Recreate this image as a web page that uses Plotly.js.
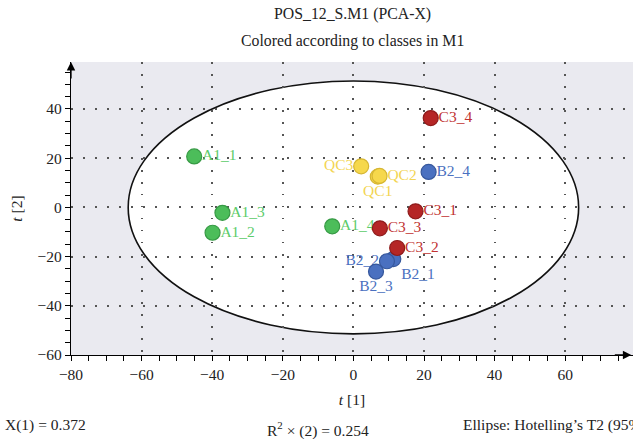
<!DOCTYPE html>
<html>
<head>
<meta charset="utf-8">
<script src="https://cdn.plot.ly/plotly-3.0.1.min.js"></script>
<style>html,body{margin:0;padding:0;background:#fff;}#chart{width:633px;height:439px;}</style>
</head>
<body>
<div id="chart"></div>
<script>
// Observation names, grouped by class
const classA = ["A1_1", "A1_2", "A1_3", "A1_4"];
const classQC = ["QC1", "QC2", "QC3"];
const classB = ["B2_1", "B2_2", "B2_3", "B2_4"];
const classC = ["C3_1", "C3_2", "C3_3", "C3_4"];

// Scores t[1]
const t1A = [-45.1, -39.9, -37.1, -6.0];
const t1QC = [6.9, 7.4, 2.2];
const t1B = [11.3, 9.5, 6.4, 21.3];
const t1C = [17.6, 12.4, 7.5, 21.9];

// Scores t[2]
const t2A = [20.7, -10.3, -2.2, -7.7];
const t2QC = [12.5, 12.8, 16.7];
const t2B = [-21.0, -21.9, -26.1, 14.4];
const t2C = [-1.6, -16.5, -8.5, 36.3];

// Hotelling's T2 ellipse semi-axes (t[1], t[2])
const ellipseT1 = 63.8;
const ellipseT2 = 51.4;

// Tick values
const xTicks = [-80, -60, -40, -20, 0, 20, 40, 60];
const yTicks = [-60, -40, -20, 0, 20, 40];

const FONT = "Liberation Serif, Times New Roman, serif";

const groups = [
  {names: classA, x: t1A, y: t2A, fill: "#4cbd5a", line: "#379a45", txt: "#5ccc6a",
   pos: ["middle right", "middle right", "middle right", "middle right"]},
  {names: classQC, x: t1QC, y: t2QC, fill: "#f6d84c", line: "#d6b632", txt: "#f3d553",
   pos: ["bottom center", "middle right", "middle left"]},
  {names: classB, x: t1B, y: t2B, fill: "#4a70c0", line: "#36579c", txt: "#4a70c0",
   pos: ["bottom right", "middle left", "bottom center", "middle right"]},
  {names: classC, x: t1C, y: t2C, fill: "#b52626", line: "#8e1b1b", txt: "#c13232",
   pos: ["middle right", "middle right", "middle right", "middle right"]}
];

const traces = [];
// label traces first (so markers sit on top of labels)
groups.forEach(g => {
  traces.push({
    type: "scatter", mode: "markers+text", x: g.x, y: g.y, text: g.names,
    textposition: g.pos, cliponaxis: false,
    textfont: {family: FONT, size: 15.5, color: g.txt},
    marker: {size: 11, color: "rgba(0,0,0,0)", line: {width: 0}},
    hoverinfo: "skip", showlegend: false
  });
});
groups.forEach(g => {
  traces.push({
    type: "scatter", mode: "markers", x: g.x, y: g.y, text: g.names,
    marker: {size: 15, color: g.fill, line: {color: g.line, width: 1.2}},
    showlegend: false
  });
});

const layout = {
  width: 633, height: 439,
  margin: {l: 71, r: 0, t: 62, b: 84},
  paper_bgcolor: "#ffffff",
  plot_bgcolor: "#eaeaf0",
  showlegend: false,
  font: {family: FONT, size: 15, color: "#222"},
  xaxis: {
    range: [-80, 79.2], tickvals: xTicks, ticks: "outside", ticklen: 5, tickwidth: 1.2,
    tickcolor: "#000", showline: true, linecolor: "#000", linewidth: 1.3,
    zeroline: false, showgrid: true, gridcolor: "#555", gridwidth: 1.5, griddash: "1.5px,10.5px",
    minor: {dtick: 5, tick0: 0, ticks: "outside", ticklen: 5, tickwidth: 1.2, tickcolor: "#000", showgrid: false},
    tickfont: {family: FONT, size: 15.5, color: "#222"},
    title: {text: "<i>t</i> [1]", font: {family: FONT, size: 15.5, color: "#222"}, standoff: 12}
  },
  yaxis: {
    range: [-60, 59.1], tickvals: yTicks, ticks: "outside", ticklen: 5, tickwidth: 1.2,
    tickcolor: "#000", showline: true, linecolor: "#000", linewidth: 1.3,
    zeroline: false, showgrid: true, gridcolor: "#555", gridwidth: 1.5, griddash: "1.5px,10.5px",
    minor: {dtick: 5, tick0: 0, ticks: "outside", ticklen: 5, tickwidth: 1.2, tickcolor: "#000", showgrid: false},
    tickfont: {family: FONT, size: 15.5, color: "#222"},
    title: {text: "<i>t</i> [2]", font: {family: FONT, size: 15.5, color: "#222"}, standoff: 11}
  },
  shapes: [{
    type: "circle", xref: "x", yref: "y", layer: "below",
    x0: -ellipseT1, x1: ellipseT1, y0: -ellipseT2, y1: ellipseT2,
    fillcolor: "#ffffff", line: {color: "#111", width: 1.6}
  }],
  annotations: [
    {text: "POS_12_S.M1 (PCA-X)", xref: "paper", yref: "paper", x: (352 - 71) / 562, y: (355 - 14) / 293,
     showarrow: false, xanchor: "center", yanchor: "middle", font: {family: FONT, size: 15.8, color: "#222"}},
    {text: "Colored according to classes in M1", xref: "paper", yref: "paper", x: (352 - 71) / 562, y: (355 - 41) / 293,
     showarrow: false, xanchor: "center", yanchor: "middle", font: {family: FONT, size: 15.8, color: "#222"}},
    {text: "X(1) = 0.372", xref: "paper", yref: "paper", x: (3 - 71) / 562, y: (355 - 425) / 293,
     showarrow: false, xanchor: "left", yanchor: "middle", font: {family: FONT, size: 15.5, color: "#222"}},
    {text: "R<sup>2</sup> × (2) = 0.254", xref: "paper", yref: "paper", x: (318 - 71) / 562, y: (355 - 429) / 293,
     showarrow: false, xanchor: "center", yanchor: "middle", font: {family: FONT, size: 15.5, color: "#222"}},
    {text: "Ellipse: Hotelling’s T2 (95%)", xref: "paper", yref: "paper", x: (461 - 71) / 562, y: (355 - 425) / 293,
     showarrow: false, xanchor: "left", yanchor: "middle", font: {family: FONT, size: 15.5, color: "#222"}},
    // axis arrows
    {text: "", xref: "paper", yref: "paper", x: 0.997, y: 0, ax: -18, ay: 0, showarrow: true,
     arrowhead: 2, arrowsize: 1.3, arrowwidth: 1.3, arrowcolor: "#000"},
    {text: "", xref: "paper", yref: "paper", x: 0, y: 1.0, ax: 0, ay: 18, showarrow: true,
     arrowhead: 2, arrowsize: 1.3, arrowwidth: 1.3, arrowcolor: "#000"}
  ]
};

Plotly.newPlot("chart", traces, layout, {displayModeBar: false, responsive: false});
</script>
</body>
</html>
